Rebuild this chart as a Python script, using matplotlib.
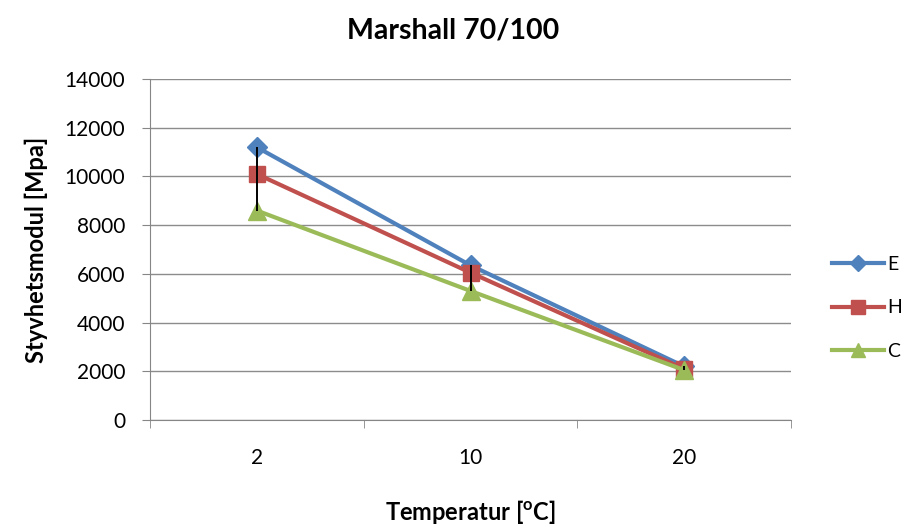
import numpy as np
import matplotlib.pyplot as plt
from matplotlib.lines import Line2D

plt.rcParams['font.family'] = ['Lato', 'DejaVu Sans']
plt.rcParams['mathtext.fontset'] = 'custom'
plt.rcParams['mathtext.rm'] = 'Lato'
plt.rcParams['mathtext.bf'] = 'Lato:bold'

temps = ['2', '10', '20']
series_names = ['E', 'H', 'C']
e_vals = [11200, 6350, 2200]
h_vals = [10100, 6050, 2100]
c_vals = [8600, 5300, 2050]

colors = ['#4F81BD', '#C0504D', '#9BBB59']
markers = ['D', 's', '^']
msizes = [10, 12, 13]

fig = plt.figure(figsize=(9.07, 5.27), dpi=100)
ax = fig.add_axes([0.1654, 0.203, 0.7067, 0.647])

x = np.arange(len(temps))
all_vals = np.array([e_vals, h_vals, c_vals])

# high-low lines between the extremes at each temperature
ax.vlines(x, all_vals.min(axis=0), all_vals.max(axis=0), color='black', lw=1.4, zorder=5)

for vals, name, col, mk, ms in zip(all_vals, series_names, colors, markers, msizes):
    ax.plot(x, vals, color=col, lw=3, marker=mk, markersize=ms, label=name, zorder=3)

ax.set_xlim(-0.5, 2.5)
ax.set_ylim(0, 14000)
ax.set_yticks(np.arange(0, 14001, 2000))
ax.set_xticks(x)
ax.set_xticklabels(temps, fontsize=15)
ax.set_xticks([-0.5, 0.5, 1.5, 2.5], minor=True)
ax.tick_params(axis='x', which='major', length=0, pad=20)
ax.tick_params(axis='x', which='minor', length=6, color='#868686')
ax.tick_params(axis='y', length=6, color='#868686', labelsize=15, pad=12)
ax.yaxis.grid(True, color='#8c8c8c', lw=1)
ax.set_axisbelow(True)
for s in ['top', 'right']:
    ax.spines[s].set_visible(False)
for s in ['left', 'bottom']:
    ax.spines[s].set_color('#868686')

fig.suptitle('Marshall 70/100', fontsize=20.5, fontweight='bold', x=0.5, y=0.943, va='center')
ax.set_ylabel('Styvhetsmodul [Mpa]', fontsize=17, fontweight='bold', labelpad=12)
ax.set_xlabel(r'Temperatur [$\mathbf{^o}$C]', fontsize=17, fontweight='bold', labelpad=22)

handles = [Line2D([0], [0], color=c, lw=3, marker=m, markersize=ms * 0.8)
           for c, m, ms in zip(colors, markers, msizes)]
fig.legend(handles, series_names, loc='center left', bbox_to_anchor=(0.917, 0.4156),
           frameon=False, fontsize=14, handlelength=2.7, handletextpad=0.15,
           labelspacing=1.35, borderaxespad=0, borderpad=0)

fig.savefig('out.png', dpi=100)
